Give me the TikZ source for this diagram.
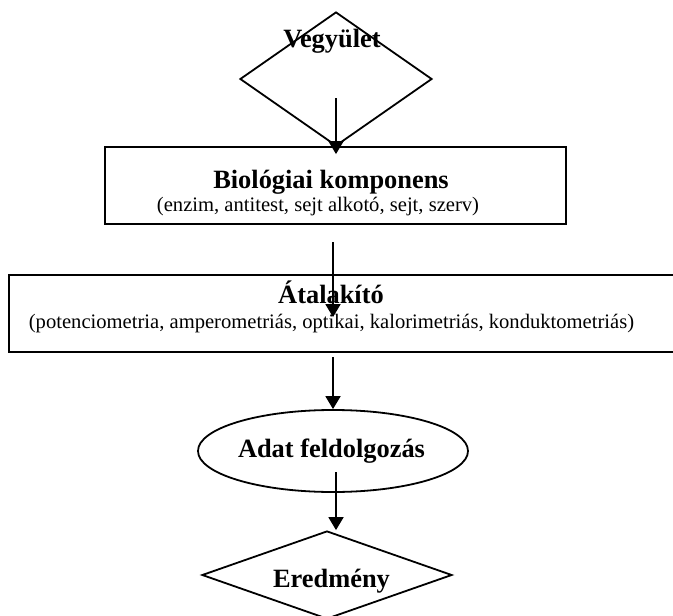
\documentclass[tikz,border=0pt]{standalone}
\usepackage{fontspec}
\setmainfont{Liberation Serif}
\usetikzlibrary{shapes.geometric,arrows.meta,calc}

\tikzset{
    outline/.style={draw, line width=1.8pt, inner sep=0pt},
    heading/.style={font=\fontsize{26.4}{30}\selectfont\bfseries, anchor=base, inner sep=0pt},
    subline/.style={font=\fontsize{20.6}{24}\selectfont, anchor=base, inner sep=0pt},
    flow/.style={line width=1.8pt, -{Triangle[length=13pt,width=15pt]}}
}

\begin{document}
\begin{tikzpicture}[x=1pt, y=-1pt]
    \useasboundingbox (0,0) rectangle (673,616);

    % Alakzatok
    \node[outline, diamond, minimum width=192, minimum height=134] (vegy) at (336,79) {};
    \node[outline, rectangle, minimum width=461, minimum height=77] (bio) at (335.5,185.5) {};
    \node[outline, rectangle, minimum width=681, minimum height=77] (atal) at (349.5,313.5) {};
    \node[outline, ellipse, minimum width=270, minimum height=82] (adat) at (333,451) {};
    \node[outline, diamond, minimum width=250, minimum height=88] (ered) at (327,575) {};

    % Feliratok
    \node[heading] (vegyt) at (332,47) {Vegyület};
    \node[heading] (biot) at (331,188) {Biológiai komponens};
    \node[subline] (bios) at (318,211) {(enzim, antitest, sejt alkotó, sejt, szerv)};
    \node[heading] (atalt) at (331,303) {Átalakító};
    \node[subline] (atals) at (331.5,328) {(potenciometria, amperometriás, optikai, kalorimetriás, konduktometriás)};
    \node[heading] (adatt) at (331.5,457) {Adat feldolgozás};
    \node[heading] (eredt) at (331.5,587) {Eredmény};

    % Nyilak
    \coordinate (a1) at (336,98);
    \coordinate (a2) at (333,242);
    \coordinate (a3) at (333,357);
    \coordinate (a4) at (336,472);
    \draw[flow] (a1) -- ($(a1 |- bio.north)+(0,8)$);
    \draw[flow] (a2) -- ($(a2 |- atal.north)+(0,43)$);
    \draw[flow] (a3) -- (adat.north);
    \draw[flow] (a4) -- (a4 |- ered.north);
\end{tikzpicture}
\end{document}
